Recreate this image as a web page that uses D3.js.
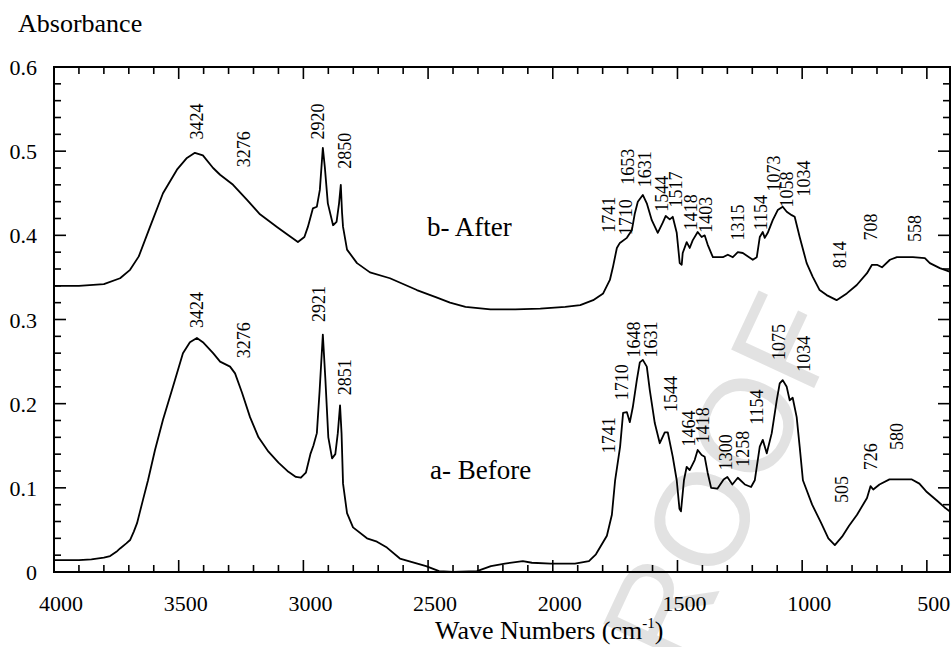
<!DOCTYPE html>
<html><head><meta charset="utf-8">
<script src="https://cdn.jsdelivr.net/npm/d3@7"></script>
<style>body{margin:0;background:#fff}svg{display:block}</style>
</head><body><svg id="c" width="951" height="647"></svg>
<script>
// wavenumbers (cm-1) and absorbance
const afterWave = [4000,3900,3800,3735,3695,3660,3615,3563,3507,3467,3435,3403,3362,3334,3282,3226,3174,3106,3060,3022,2996,2982,2962,2946,2934,2922,2914,2902,2881,2867,2857,2850,2845,2841,2825,2785,2733,2653,2545,2464,2412,2350,2250,2150,2050,1950,1890,1838,1798,1771,1759,1743,1731,1703,1683,1671,1659,1639,1623,1603,1579,1559,1547,1531,1519,1503,1491,1483,1479,1463,1451,1439,1419,1403,1391,1379,1358,1318,1298,1278,1258,1238,1198,1182,1170,1158,1150,1138,1118,1098,1078,1062,1042,1030,1010,982,958,930,902,862,821,781,740,720,700,680,648,620,556,508,488,448,400];
const afterAbs = [0.340,0.340,0.342,0.349,0.359,0.375,0.410,0.450,0.478,0.492,0.498,0.495,0.480,0.472,0.460,0.442,0.425,0.410,0.400,0.392,0.398,0.410,0.432,0.434,0.454,0.504,0.481,0.438,0.412,0.416,0.438,0.460,0.427,0.410,0.383,0.367,0.356,0.349,0.335,0.326,0.320,0.315,0.312,0.312,0.313,0.315,0.317,0.323,0.331,0.347,0.362,0.385,0.391,0.397,0.406,0.426,0.440,0.448,0.438,0.418,0.403,0.415,0.423,0.419,0.422,0.403,0.367,0.365,0.379,0.392,0.385,0.394,0.404,0.398,0.400,0.389,0.374,0.374,0.377,0.374,0.380,0.379,0.371,0.374,0.398,0.404,0.397,0.403,0.418,0.430,0.434,0.428,0.424,0.422,0.398,0.367,0.351,0.335,0.329,0.323,0.331,0.341,0.355,0.365,0.365,0.362,0.371,0.374,0.374,0.373,0.367,0.361,0.356];
const beforeWave = [4000,3900,3850,3800,3775,3750,3735,3710,3695,3680,3667,3655,3643,3623,3595,3563,3523,3483,3455,3427,3403,3362,3334,3294,3274,3246,3214,3180,3140,3100,3060,3030,3010,2990,2972,2960,2946,2935,2922,2912,2900,2885,2872,2862,2853,2847,2841,2825,2801,2745,2705,2665,2613,2508,2456,2400,2304,2248,2192,2120,2084,2008,1911,1855,1827,1783,1763,1750,1730,1718,1703,1691,1679,1663,1651,1639,1623,1611,1591,1571,1551,1539,1519,1503,1492,1486,1474,1463,1451,1431,1419,1403,1391,1379,1365,1340,1315,1300,1280,1258,1230,1205,1190,1170,1158,1142,1122,1102,1090,1078,1062,1050,1038,1022,1010,997,960,925,895,869,840,812,780,740,726,715,690,650,560,530,500,460,430,400];
const beforeAbs = [0.014,0.014,0.015,0.017,0.019,0.024,0.028,0.034,0.038,0.048,0.058,0.072,0.086,0.109,0.145,0.181,0.220,0.260,0.273,0.278,0.273,0.260,0.250,0.244,0.236,0.213,0.184,0.160,0.143,0.130,0.119,0.113,0.112,0.118,0.140,0.150,0.165,0.215,0.282,0.230,0.160,0.135,0.140,0.165,0.198,0.165,0.105,0.070,0.053,0.040,0.036,0.029,0.016,0.007,0.001,0.000,0.001,0.007,0.010,0.013,0.011,0.010,0.010,0.013,0.021,0.043,0.068,0.109,0.149,0.189,0.190,0.178,0.196,0.228,0.249,0.252,0.244,0.216,0.177,0.153,0.166,0.166,0.137,0.109,0.075,0.072,0.109,0.125,0.121,0.133,0.145,0.139,0.137,0.118,0.100,0.099,0.110,0.113,0.104,0.112,0.104,0.101,0.109,0.149,0.157,0.141,0.165,0.204,0.224,0.228,0.220,0.204,0.207,0.184,0.149,0.109,0.080,0.059,0.040,0.032,0.042,0.055,0.068,0.088,0.102,0.098,0.104,0.110,0.110,0.105,0.095,0.085,0.077,0.070];
// peak annotations: label, wavenumber where the label sits, absorbance at the label's lower end
const afterPeakLabels = ["3424","3276","2920","2850","1741","1710","1653","1631","1544","1517","1418","1403","1315","1154","1073","1058","1034","814","708","558"];
const afterPeakWave = [3427,3238,2941,2833,1775,1707,1699,1630,1562,1506,1446,1386,1257,1165,1113,1061,993,848,724,548];
const afterPeakBase = [0.514,0.481,0.514,0.479,0.403,0.400,0.460,0.457,0.428,0.433,0.406,0.403,0.394,0.406,0.452,0.433,0.446,0.361,0.394,0.392];
const beforePeakLabels = ["3424","3276","2921","2851","1741","1710","1648","1631","1544","1464","1418","1300","1258","1154","1075","1034","726","580","505"];
const beforePeakWave = [3427,3238,2937,2833,1775,1723,1674,1606,1526,1454,1398,1306,1237,1181,1093,993,724,620,840];
const beforePeakBase = [0.290,0.254,0.297,0.210,0.141,0.204,0.255,0.255,0.190,0.149,0.153,0.121,0.125,0.175,0.252,0.238,0.121,0.145,0.082];
const seriesNames = ["b- After","a- Before"];
const xTicks = [4000,3500,3000,2500,2000,1500,1000,500];
const yTicks = [0,0.1,0.2,0.3,0.4,0.5,0.6];

const SERIF = '"Liberation Serif"';
const svg = d3.select("#c");
const L=54,R=950,T=67,B=572;
const x = d3.scaleLinear().domain([4000,400]).range([L,951.8]);
const y = d3.scaleLinear().domain([0,0.6]).range([B,T]);
function txt(parent){ return parent.append("text").style("font-family",SERIF).attr("fill","#000"); }

// watermark
svg.append("text").attr("transform","translate(644,753) rotate(-65)")
  .attr("font-size",133).attr("fill","#e2e2e2")
  .style("font-family",'"Liberation Sans"').text("PROOF");

const g = svg.append("g");
svg.append("clipPath").attr("id","cl").append("rect").attr("x",L).attr("y",T).attr("width",R-L).attr("height",B-T);
const line = d3.line().x(d=>x(d[0])).y(d=>y(d[1]));
const plot = g.append("g").attr("clip-path","url(#cl)");
plot.append("path").datum(afterWave.map((w,i)=>[w,afterAbs[i]])).attr("d",line).attr("fill","none").attr("stroke","#000").attr("stroke-width",1.8).attr("stroke-linejoin","round");
plot.append("path").datum(beforeWave.map((w,i)=>[w,beforeAbs[i]])).attr("d",line).attr("fill","none").attr("stroke","#000").attr("stroke-width",1.8).attr("stroke-linejoin","round");

// ticks (inward, on all four sides)
const minorX = d3.range(4000,399,-100);
const minorY = d3.range(0,0.6001,0.02);
const tg = g.append("g").attr("stroke","#000").attr("stroke-width",1.6);
minorX.forEach(v=>{
  const major = v%500===0; const len = major?12:7; const px = x(v);
  if(px>R) return;
  tg.append("line").attr("x1",px).attr("x2",px).attr("y1",B).attr("y2",B-len);
  tg.append("line").attr("x1",px).attr("x2",px).attr("y1",T).attr("y2",T+len);
});
minorY.forEach(v=>{
  const major = Math.abs(v*10-Math.round(v*10))<1e-6; const len = major?12:7; const py = y(v);
  tg.append("line").attr("x1",L).attr("x2",L+len).attr("y1",py).attr("y2",py);
  tg.append("line").attr("x1",R).attr("x2",R-len).attr("y1",py).attr("y2",py);
});
g.append("rect").attr("x",L).attr("y",T).attr("width",R-L).attr("height",B-T).attr("fill","none").attr("stroke","#000").attr("stroke-width",2);

xTicks.forEach(v=>{
  txt(g).attr("x",x(v)+7).attr("y",611).attr("text-anchor","middle").attr("font-size",22).text(v);
});
yTicks.forEach(v=>{
  txt(g).attr("x",37).attr("y",y(v)+8).attr("text-anchor","end").attr("font-size",22).text(v===0?"0":d3.format(".1f")(v));
});
txt(g).attr("x",18).attr("y",32).attr("font-size",26).text("Absorbance");
const xt = txt(g).attr("x",435).attr("y",639).attr("font-size",26);
xt.append("tspan").text("Wave Numbers (cm");
xt.append("tspan").attr("font-size",15).attr("dy",-11).text("-1");
xt.append("tspan").attr("dy",11).text(")");

// series names
txt(g).attr("x",427).attr("y",236).attr("font-size",27).text(seriesNames[0]);
txt(g).attr("x",430).attr("y",479).attr("font-size",27).text(seriesNames[1]);

// peak labels (rotated)
function peaks(labels,waves,base){
  labels.forEach((t,i)=>{
    txt(g).attr("transform",`translate(${x(waves[i])},${y(base[i])}) rotate(-90)`)
      .attr("dy","0.35em").attr("font-size",18).text(t);
  });
}
peaks(afterPeakLabels,afterPeakWave,afterPeakBase);
peaks(beforePeakLabels,beforePeakWave,beforePeakBase);
</script></body></html>
